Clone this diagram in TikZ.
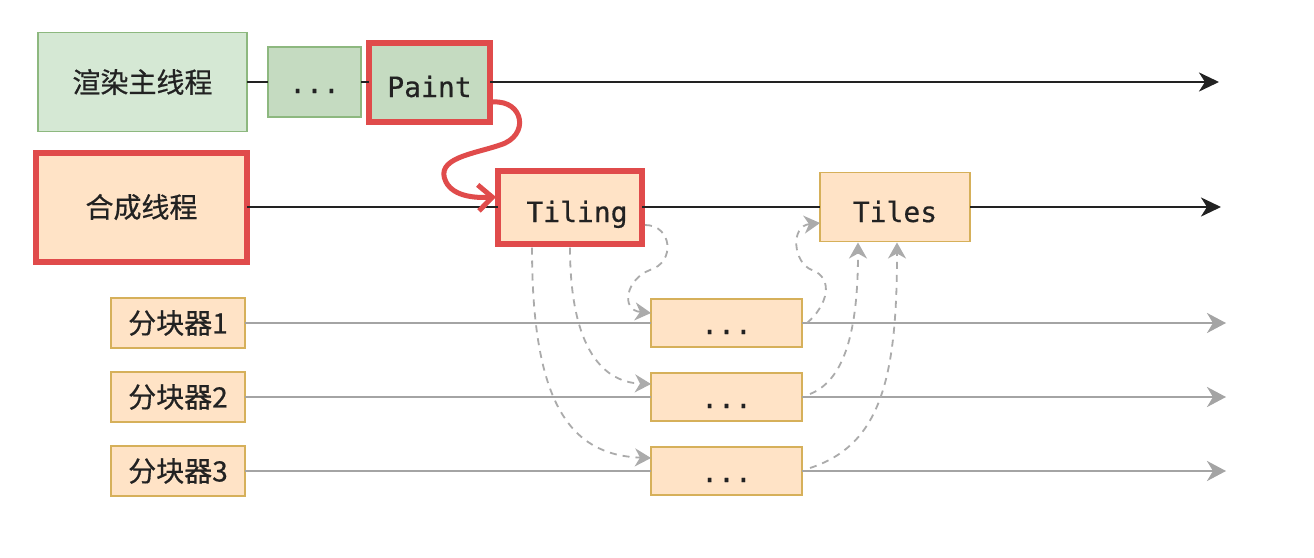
\documentclass[tikz,border=0pt]{standalone}
\usepackage{fontspec}
\newfontfamily\cjk{Noto Sans CJK SC}[FakeBold=0.6]
\newfontfamily\mono{DejaVu Sans Mono}[FakeBold=0.4]
\usetikzlibrary{arrows.meta,calc}
\definecolor{gfill}{HTML}{D5E8D4}
\definecolor{gfillb}{HTML}{C5DBC1}
\definecolor{gline}{HTML}{8DB87F}
\definecolor{ofill}{HTML}{FFE3C6}
\definecolor{oline}{HTML}{D6B05A}
\definecolor{hred}{HTML}{E04B4B}
\definecolor{lgray}{HTML}{A4A4A4}
\definecolor{dgray}{HTML}{ABABAB}
\definecolor{ink}{HTML}{222222}
\begin{document}
\begin{tikzpicture}[x=1pt,y=-1pt,
  box/.style={draw, line width=1.5pt, inner sep=0pt, outer sep=0pt, text=ink},
  greenbox/.style={box, fill=gfill, draw=gline},
  greenboxb/.style={box, fill=gfillb, draw=gline},
  orangebox/.style={box, fill=ofill, draw=oline},
  hilite/.style={draw=hred, line width=6pt},
  cjktext/.style={font=\cjk\fontsize{28}{32}\selectfont},
  monotext/.style={font=\mono\fontsize{28}{32}\selectfont, text height=30pt, text depth=0pt},
  dotstext/.style={font=\mono\fontsize{28}{32}\selectfont, text height=22pt, text depth=0pt},
  blackline/.style={line width=2.6pt, draw=ink},
  grayline/.style={line width=2.4pt, draw=lgray},
  blacktip/.style={-{Stealth[length=20pt,width=19pt,inset=6pt]}},
  graytip/.style={-{Stealth[length=19pt,width=20pt,inset=6pt]}},
  dashconn/.style={draw=dgray, line width=1.8pt, dash pattern=on 7pt off 6pt,
    -{Stealth[length=16pt,width=18pt,inset=5pt]}},
  redsquig/.style={draw=hred, line width=5pt, line cap=round, line join=round,
    -{Straight Barb[length=14pt,width=26pt,line width=5pt]}}
]
\fill[white] (0,0) rectangle (1314,557);
\useasboundingbox (0,0) rectangle (1314,557);

% row 1: main thread
\node[greenbox, cjktext, minimum width=209pt, minimum height=99pt] (main) at (142.5,82) {渲染主线程};
\node[greenboxb, dotstext, minimum width=93pt, minimum height=70pt] (gdots) at (314.5,82) {...};
\node[greenboxb, hilite, monotext, minimum width=121pt, minimum height=79pt] (paint) at (429.5,82) {Paint};
\coordinate (end1) at (1219,82);

% row 2: compositor thread
\node[orangebox, hilite, cjktext, minimum width=211pt, minimum height=109pt] (comp) at (141.5,207) {合成线程};
\node[orangebox, hilite, monotext, minimum width=144pt, minimum height=73pt] (tiling) at (570,207) {\hspace*{14pt}Tiling};
\node[orangebox, monotext, minimum width=150pt, minimum height=69pt] (tiles) at (895,207) {Tiles};
\coordinate (end2) at (1221,207);

% raster threads
\node[orangebox, cjktext, minimum width=134pt, minimum height=50pt] (r1) at (178,323) {分块器1};
\node[orangebox, cjktext, minimum width=134pt, minimum height=50pt] (r2) at (178,397) {分块器2};
\node[orangebox, cjktext, minimum width=134pt, minimum height=50pt] (r3) at (178,471) {分块器3};
\node[orangebox, dotstext, minimum width=151pt, minimum height=48pt] (d1) at (726.5,323) {...};
\node[orangebox, dotstext, minimum width=151pt, minimum height=48pt] (d2) at (726.5,397) {...};
\node[orangebox, dotstext, minimum width=151pt, minimum height=48pt] (d3) at (726.5,471) {...};
\coordinate (e3) at (1226,323);
\coordinate (e4) at (1226,397);
\coordinate (e5) at (1226,471);

% solid timelines
\draw[blackline] (main.east) -- (gdots.west);
\draw[blackline] (gdots.east) -- (paint.west);
\draw[blackline, blacktip] (paint.east) -- (end1);
\draw[blackline] (comp.east) -- (tiling.west);
\draw[blackline] (tiling.east) -- (tiles.west);
\draw[blackline, blacktip] (tiles.east) -- (end2);
\draw[grayline] (r1.east) -- (d1.west);
\draw[grayline, graytip] (d1.east) -- (e3);
\draw[grayline] (r2.east) -- (d2.west);
\draw[grayline, graytip] (d2.east) -- (e4);
\draw[grayline] (r3.east) -- (d3.west);
\draw[grayline, graytip] (d3.east) -- (e5);

% dashed connectors
\draw[dashconn] ($(tiling.east)+(3,18)$) .. controls (672,225) and (676,262) .. (650,270)
   .. controls (626,279) and (620,310) .. ($(d1.west)+(0,-10)$);
\draw[dashconn] ($(tiling.south)+(0,4)$) .. controls (570,340) and (598,382) .. ($(d2.west)+(0,-13)$);
\draw[dashconn] ($(tiling.south)+(-38,4)$) .. controls (532,400) and (568,455) .. ($(d3.west)+(0,-13)$);
\draw[dashconn] ($(d1.east)+(5,0)$) .. controls (828,305) and (834,278) .. (812,270)
   .. controls (793,263) and (790,226) .. ($(tiles.west)+(0,16)$);
\draw[dashconn] ($(d2.east)+(8,-3)$) .. controls (845,380) and (858,330) .. ($(tiles.south)+(-37,1)$);
\draw[dashconn] ($(d3.east)+(8,-3)$) .. controls (880,445) and (897,380) .. ($(tiles.south)+(2,1)$);

% red hand-drawn annotation
\draw[redsquig] ($(paint.east)+(3,20)$) .. controls (524,100) and (530,136) .. (500,145)
   .. controls (474,154) and (434,158) .. (446,182)
   .. controls (454,197) and (476,198) .. ($(tiling.west)+(-2,-10)$);
\end{tikzpicture}
\end{document}
